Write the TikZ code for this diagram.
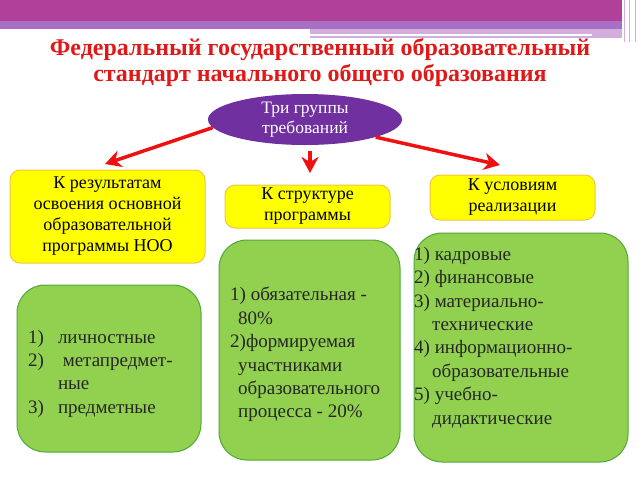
\documentclass[tikz,border=0pt]{standalone}
\usepackage{fontspec}
\setmainfont{Liberation Serif}
\newfontfamily\rufont{Liberation Serif}
\usetikzlibrary{arrows.meta,shapes.geometric}
\definecolor{bandmag}{HTML}{B0409A}
\definecolor{bandlil}{HTML}{A870C4}
\definecolor{bandpale}{HTML}{D2AEDC}
\definecolor{titlered}{HTML}{E01818}
\definecolor{grppurple}{HTML}{7030A0}
\definecolor{boxyellow}{HTML}{FFFF00}
\definecolor{yelborder}{HTML}{F2C440}
\definecolor{boxgreen}{HTML}{92D050}
\definecolor{grnborder}{HTML}{4EA835}
\definecolor{arrred}{HTML}{F01010}
\tikzset{
  reqbox/.style={draw=yelborder,line width=1pt,fill=boxyellow,rounded corners=10pt,
    align=center,inner sep=0pt,font=\rufont\fontsize{18}{21}\selectfont},
  listbox/.style={draw=grnborder,line width=1pt,fill=boxgreen,rounded corners=28pt,inner sep=0pt},
  listtext/.style={align=left,anchor=north west,inner sep=0pt,text=black!85,
    font=\rufont\fontsize{19}{23.4}\selectfont},
  reqarrow/.style={arrred,line width=3.5pt,-{Stealth[length=16pt,width=17pt,inset=5pt]}}
}
\begin{document}
\begin{tikzpicture}[x=1pt,y=-1pt,line join=round]
		\useasboundingbox (0,0) rectangle (640,480);
		% top band
		\fill[bandmag] (0,0) rectangle (622,21);
		\fill[bandlil] (0,21) rectangle (622,29);
		\fill[bandpale] (310,29) rectangle (622,38);
		\draw[white,line width=1.2pt] (310,35) -- (592,35);
		\foreach \x in {624,629,635}
		\draw[bandpale,line width=1pt] (\x,0) -- (\x,42);
		% title
		\node[text=titlered,font=\rufont\fontsize{24}{26}\selectfont\bfseries,align=center] (title) at (320,62)
		{Федеральный государственный образовательный\\стандарт начального общего образования};
		% root
		\node[ellipse,fill=grppurple,minimum width=194pt,minimum height=51pt,inner sep=0pt,
		  text=white,align=center,font=\rufont\fontsize{17.5}{20}\selectfont] (grp) at (305,119.5)
		{Три группы\\требований};
		% requirement boxes
		\node[reqbox,minimum width=195pt,minimum height=93pt] (res) at (107.5,216.5)
		{К результатам\\освоения основной\\образовательной\\программы НОО};
		\node[reqbox,minimum width=165pt,minimum height=43pt] (str) at (307.5,206.5)
		{К структуре\\программы};
		\node[reqbox,minimum width=165pt,minimum height=45pt] (cond) at (512.5,197.5)
		{К условиям\\реализации};
		% arrows
		\coordinate (resTip) at (105,164);
		\coordinate (strTip) at (310,173);
		\coordinate (condTip) at (500,165);
		\draw[reqarrow] (grp.185) -- (resTip);
		\draw[reqarrow,shorten <=6pt] ([xshift=5pt]grp.south) -- (strTip);
		\draw[reqarrow] (grp.-14) -- (condTip);
		% lists
		\node[listbox,minimum width=184pt,minimum height=167pt] (resList) at (109,368.5) {};
		\node[listbox,minimum width=181pt,minimum height=220pt] (strList) at (309.5,350) {};
		\node[listbox,minimum width=214pt,minimum height=229pt] (condList) at (521,347.5) {};
		\node[listtext] (resItems) at (28,326.6)
		{\begin{tabular}{@{}l@{\hspace{14pt}}l@{}}
		1) & личностные\\
		2) & \ метапредмет-\\
		   & ные\\
		3) & предметные
		\end{tabular}};
		\node[listtext] (strItems) at (230,287)
		{1) обязательная -\\
		\hspace{8pt}80\%\\
		2)формируемая\\
		\hspace{8pt}участниками\\
		\hspace{8pt}образовательного\\
		\hspace{8pt}процесса - 20\%};
		\node[listtext] (condItems) at (414,247)
		{1) кадровые\\
		2) финансовые\\
		3) материально-\\
		\hspace{18pt}технические\\
		4) информационно-\\
		\hspace{18pt}образовательные\\
		5) учебно-\\
		\hspace{18pt}дидактические};
\end{tikzpicture}
\end{document}
